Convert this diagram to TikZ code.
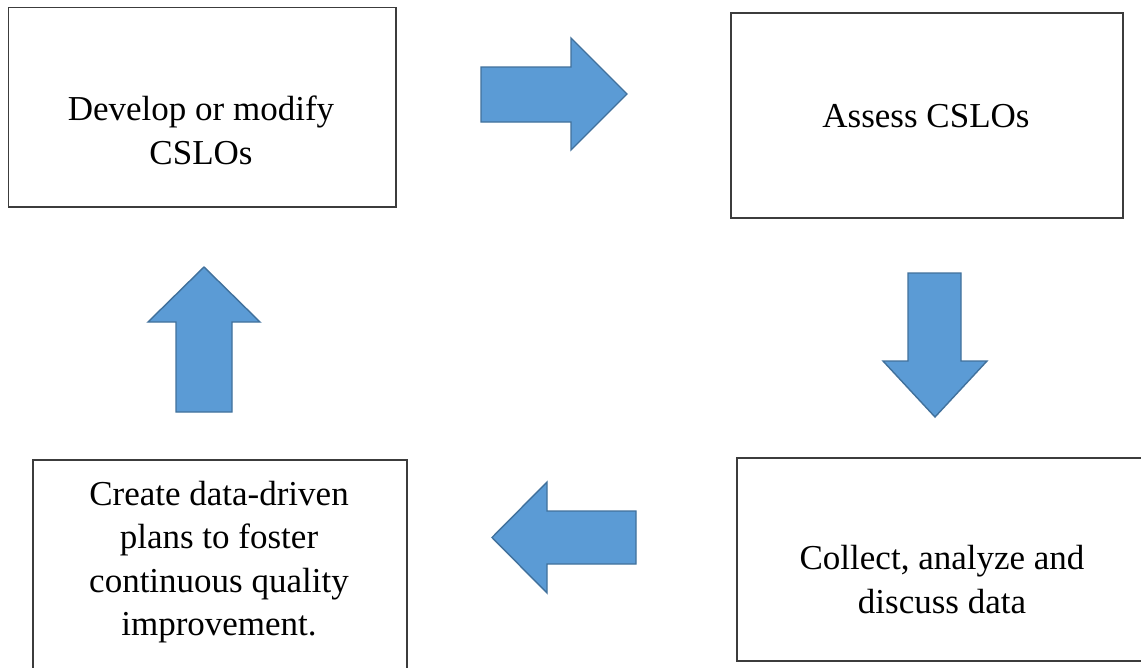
\documentclass[tikz,border=0pt]{standalone}
\usepackage{fontspec}
\setmainfont{Liberation Serif}
\definecolor{boxline}{HTML}{3C3C3C}
\definecolor{arrowfill}{HTML}{5B9BD5}
\definecolor{arrowline}{HTML}{41719C}
\begin{document}
\begin{tikzpicture}[x=1pt,y=-1pt,
  box/.style={draw=boxline, line width=1.5pt, fill=white, inner sep=0pt},
  label/.style={anchor=base, inner sep=0pt, font=\fontsize{35}{44}\selectfont, text=black},
  blockarrow/.style={fill=arrowfill, draw=arrowline, line width=1.4pt, line join=miter}]
\useasboundingbox (0,0) rectangle (1141,667);
\clip (0,0) rectangle (1141,667);
\fill[white] (0,0) rectangle (1141,667);
% boxes
\node[box, minimum width=387.5pt, minimum height=199.5pt] (b1) at (202.25,107.25) {};
\node[box, minimum width=392pt, minimum height=205pt] (b2) at (927,115.5) {};
\node[box, minimum width=423pt, minimum height=203pt] (b3) at (948.5,559.5) {};
\node[box, minimum width=374pt, minimum height=260pt] (b4) at (220,590) {};
% texts
\node[label] (t1a) at (201,120) {Develop or modify};
\node[label] (t1b) at (201,164) {CSLOs};
\node[label] (t2) at (926,127) {Assess CSLOs};
\node[label] (t3a) at (942,569) {Collect, analyze and};
\node[label] (t3b) at (942,613) {discuss data};
\node[label] (t4a) at (219,505) {Create data-driven};
\node[label] (t4b) at (219,548.5) {plans to foster};
\node[label] (t4c) at (219,592) {continuous quality};
\node[label] (t4d) at (219,635.5) {improvement.};
% block arrows
\draw[blockarrow] (481,67) -- (571,67) -- (571,38) -- (627,94) -- (571,150) -- (571,122) -- (481,122) -- cycle;
\draw[blockarrow] (908,273) -- (961,273) -- (961,361) -- (987,361) -- (935,417) -- (883,361) -- (908,361) -- cycle;
\draw[blockarrow] (636,511) -- (547,511) -- (547,482) -- (492,537.5) -- (547,593) -- (547,564) -- (636,564) -- cycle;
\draw[blockarrow] (176,412) -- (176,322) -- (148,322) -- (204,267) -- (260,322) -- (232,322) -- (232,412) -- cycle;
\end{tikzpicture}
\end{document}
